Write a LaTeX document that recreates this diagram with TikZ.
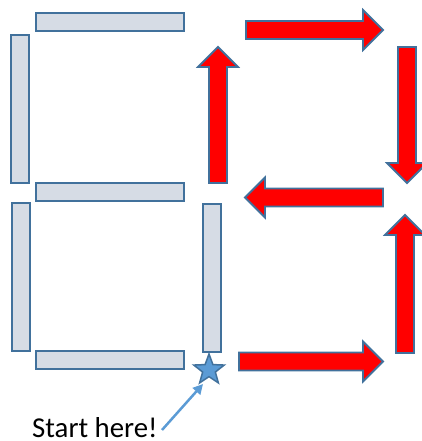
\documentclass[tikz,border=0pt]{standalone}
\usepackage{fontspec}
\setmainfont{Carlito}
\usetikzlibrary{shapes.geometric,arrows.meta}
\definecolor{barfill}{HTML}{D6DCE5}
\definecolor{edge}{HTML}{41719C}
\definecolor{starblue}{HTML}{5B9BD5}
\tikzset{
  x=1pt,y=1pt,
  hbar/.style={draw=edge,line width=2pt,fill=barfill,rectangle,inner sep=0pt,minimum width=148pt,minimum height=18pt},
  vbar/.style={draw=edge,line width=2pt,fill=barfill,rectangle,inner sep=0pt,minimum width=18pt,minimum height=148pt},
  arrowsty/.style={draw=edge,line width=1.8pt,fill=red,line join=miter},
  pics/rarrow/.style={code={
    \draw[arrowsty] (0,-9)--(#1-20,-9)--(#1-20,-20)--(#1,0)--(#1-20,20)--(#1-20,9)--(0,9)--cycle;}},
  startstar/.style={star,star points=5,star point ratio=2.4,minimum size=32pt,inner sep=0pt,fill=starblue,draw=edge,line width=1.5pt},
  pointer/.style={draw=starblue,line width=2.5pt,-{Triangle[length=10pt,width=10pt]}}
}
\begin{document}
\begin{tikzpicture}
\useasboundingbox (0,0) rectangle (421,441);
% segments of the digit
\node[hbar] (top) at (110,419) {};
\node[vbar] (ul) at (20,332) {};
\node[hbar] (mid) at (110,249) {};
\node[vbar] (ll) at (20.5,163.5) {};
\node[vbar] (lr) at (211.5,163) {};
\node[hbar] (bot) at (110,80.5) {};
% path arrows
\pic[rotate=0] at (239,79.5) {rarrow=144};
\pic[rotate=90] at (405,88) {rarrow=138};
\pic[rotate=180] at (383,243.5) {rarrow=138};
\pic[rotate=90] at (218,258) {rarrow=136};
\pic[rotate=0] at (246,411) {rarrow=137};
\pic[rotate=-90] at (407,394) {rarrow=136};
% start
\node[startstar] (star) at (209,71) {};
\node[anchor=base west,inner sep=0pt,font=\fontsize{28.8}{34}\selectfont] (label) at (32,4) {Start here!};
\coordinate (ls) at (162,11);
\coordinate (lt) at (203,57);
\draw[pointer] (ls) -- (lt);
\end{tikzpicture}
\end{document}
